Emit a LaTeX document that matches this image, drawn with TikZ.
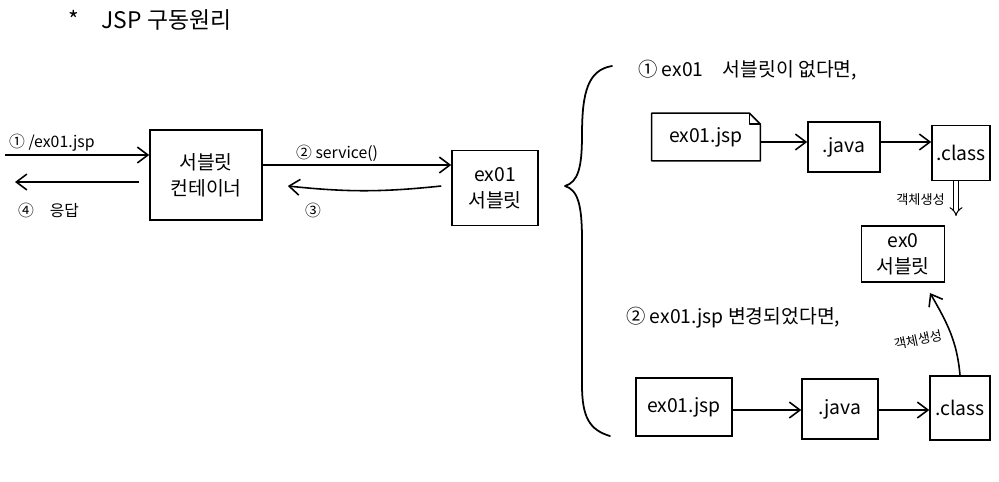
\documentclass[tikz,border=0pt]{standalone}
\usepackage{fontspec}
\setmainfont{Noto Sans CJK KR}
\usetikzlibrary{arrows.meta}
\tikzset{
  box/.style={draw=black, line width=0.9pt, inner sep=0pt, align=center, font=\fontsize{11}{15}\selectfont},
  doc/.style={inner sep=0pt, minimum width=2.16cm, minimum height=0.94cm, font=\fontsize{11}{13}\selectfont},
  flow/.style={line width=0.9pt, -{Straight Barb[length=6pt,width=9pt]}},
  twin/.style={line width=0.6pt, double, double distance=2pt, -{Implies}},
  tag/.style={font=\fontsize{9}{11}\selectfont},
  small/.style={font=\fontsize{7.5}{9}\selectfont},
  head/.style={font=\fontsize{11}{13}\selectfont, anchor=west},
  brace/.style={line width=1pt, line cap=round, line join=round},
}
\begin{document}
\begin{tikzpicture}[x=0.02cm, y=-0.02cm]
\useasboundingbox (0,0) rectangle (999,481);
\node[anchor=west, font=\fontsize{13}{15}\selectfont] (title) at (62,20) {*\quad JSP 구동원리};
\node[box, minimum width=2.24cm, minimum height=1.8cm] (cont) at (206,175) {서블릿\\컨테이너};
\node[box, minimum width=1.72cm, minimum height=1.5cm] (srv) at (495,188) {ex01\\서블릿};
\coordinate (req) at (5,155);
\coordinate (res) at (15,182);
\draw[flow] (req) -- (req -| cont.west);
\draw[flow] ([xshift=-0.2cm]res -| cont.west) -- (res);
\node[tag, anchor=west] (reqlabel) at (3,143) {① /ex01.jsp};
\node[tag, anchor=west] (reslabel) at (12,210) {④\quad 응답};
\coordinate (call) at (0,165);
\draw[flow] (call -| cont.east) -- (call -| srv.west);
\node[tag, anchor=west] (calllabel) at (290,153) {② service()};
\coordinate (back) at (0,186);
\draw[flow] ([xshift=-0.2cm]back -| srv.west) to[bend left=6] ([xshift=0.5cm]back -| cont.east);
\node[tag] (backlabel) at (313,210) {③};
\draw[brace] (612,66) .. controls (588,70) and (582,92) .. (582,135) .. controls (582,168) and (578,182) .. (565,186) .. controls (578,190) and (582,205) .. (582,240) -- (582,385) .. controls (582,418) and (590,430) .. (610,436);
\node[head] (case1) at (632,70) {①\ ex01\quad 서블릿이\ 없다면,};
\node[doc] (jsp1) at (706,137) {ex01.jsp};
\draw[line width=0.9pt, line join=round] (jsp1.south west) -- (jsp1.south east) -- ([yshift=-0.22cm]jsp1.north east) -- ([xshift=-0.22cm]jsp1.north east) -- (jsp1.north west) -- cycle;
\draw[line width=0.9pt, line join=round] ([xshift=-0.22cm]jsp1.north east) -- ([xshift=-0.22cm,yshift=-0.22cm]jsp1.north east) -- ([yshift=-0.22cm]jsp1.north east);
\node[box, minimum width=1.44cm, minimum height=1.0cm] (java1) at (844,147) {.java};
\node[box, minimum width=1.16cm, minimum height=1.1cm] (cls1) at (961,153) {.class};
\coordinate (row1) at (0,142);
\draw[flow] (row1 -| jsp1.east) -- (row1 -| java1.west);
\draw[flow] (row1 -| java1.east) -- (row1 -| cls1.west);
\node[box, minimum width=1.66cm, minimum height=1.12cm] (srv2) at (903,254) {ex0\\서블릿};
\coordinate (make1) at (956,216);
\draw[twin] (make1 |- cls1.south) -- (make1);
\node[small, anchor=east] (make1label) at (951,200) {객체생성};
\node[head] (case2) at (620,318) {②\ ex01.jsp 변경되었다면,};
\node[box, minimum width=1.92cm, minimum height=1.16cm] (jsp2) at (684,407) {ex01.jsp};
\node[box, minimum width=1.52cm, minimum height=1.2cm] (java2) at (840,409) {.java};
\node[box, minimum width=1.2cm, minimum height=1.28cm] (cls2) at (960,408) {.class};
\coordinate (row2) at (0,410);
\draw[flow] (row2 -| jsp2.east) -- (row2 -| java2.west);
\draw[flow] (row2 -| java2.east) -- (row2 -| cls2.west);
\coordinate (make2) at (930,293);
\draw[flow] (cls2.north) to[out=95, in=-60] (make2);
\node[small, rotate=12] (make2label) at (918,340) {객체생성};
\end{tikzpicture}
\end{document}
